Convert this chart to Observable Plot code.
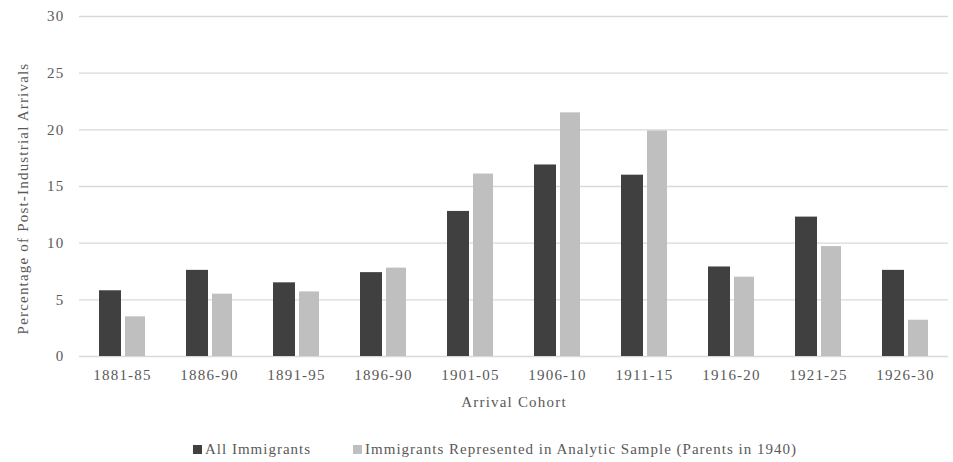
<!DOCTYPE html>
<html>
<head>
<meta charset="utf-8">
<script src="https://cdn.jsdelivr.net/npm/d3@7"></script>
<script src="https://cdn.jsdelivr.net/npm/@observablehq/plot@0.6"></script>
<style>
  html, body { margin: 0; padding: 0; background: #ffffff; }
  #wrap { position: relative; width: 953px; height: 462px; font-family: "Liberation Serif", "Times New Roman", serif; color: #595959; }
  #legend { position: absolute; left: 193px; top: 441px; display: flex; align-items: center; font-size: 15px; letter-spacing: 1px; white-space: nowrap; }
  .item { display: flex; align-items: center; margin-right: 42px; }
  .sw { width: 9px; height: 9px; margin-right: 3px; display: inline-block; }
</style>
</head>
<body>
<div id="wrap">
  <div id="chart"></div>
  <div id="legend"></div>
</div>
<script>
const cohorts = ["1881-85", "1886-90", "1891-95", "1896-90", "1901-05", "1906-10", "1911-15", "1916-20", "1921-25", "1926-30"];
const allImmigrants = [5.8, 7.6, 6.5, 7.4, 12.8, 16.9, 16.0, 7.9, 12.3, 7.6];
const analyticSample = [3.5, 5.5, 5.7, 7.8, 16.1, 21.5, 19.9, 7.0, 9.7, 3.2];
const yTicks = [0, 5, 10, 15, 20, 25, 30];
const seriesNames = ["All Immigrants", "Immigrants Represented in Analytic Sample (Parents in 1940)"];
const seriesColors = ["#404040", "#bfbfbf"];

const rows = cohorts.map((c, i) => ({cohort: c, all: allImmigrants[i], sample: analyticSample[i]}));

const chart = Plot.plot({
  width: 953,
  height: 420,
  marginTop: 16,
  marginLeft: 79,
  marginRight: 5,
  marginBottom: 64,
  style: {fontFamily: "'Liberation Serif', 'Times New Roman', serif", fontSize: "15px", color: "#595959", letterSpacing: "1.2px", background: "#ffffff"},
  x: {domain: cohorts, paddingInner: 0.47, paddingOuter: 0.225, label: "Arrival Cohort", labelAnchor: "center", labelOffset: 50, tickSize: 0, tickPadding: 13, labelArrow: false},
  y: {domain: [0, 30], ticks: yTicks, tickSize: 0, tickPadding: 15, label: "Percentage of Post-Industrial Arrivals", labelAnchor: "center", labelOffset: 62, labelArrow: false},
  marks: [
    Plot.ruleY(yTicks, {stroke: "#d9d9d9", strokeWidth: 1.3}),
    Plot.barY(rows, {x: "cohort", y: "all", fill: seriesColors[0], insetRight: 24}),
    Plot.barY(rows, {x: "cohort", y: "sample", fill: seriesColors[1], insetLeft: 26})
  ]
});
const yLabel = chart.querySelector('[aria-label="y-axis label"]');
if (yLabel) {
  const prev = yLabel.getAttribute("transform") || "";
  yLabel.setAttribute("transform", ("translate(0,12) " + prev).trim());
}
document.getElementById("chart").appendChild(chart);

const legend = document.getElementById("legend");
seriesNames.forEach((name, i) => {
  const item = document.createElement("div");
  item.className = "item";
  const sw = document.createElement("span");
  sw.className = "sw";
  sw.style.background = seriesColors[i];
  const label = document.createElement("span");
  label.textContent = name;
  item.appendChild(sw);
  item.appendChild(label);
  legend.appendChild(item);
});
</script>
</body>
</html>
